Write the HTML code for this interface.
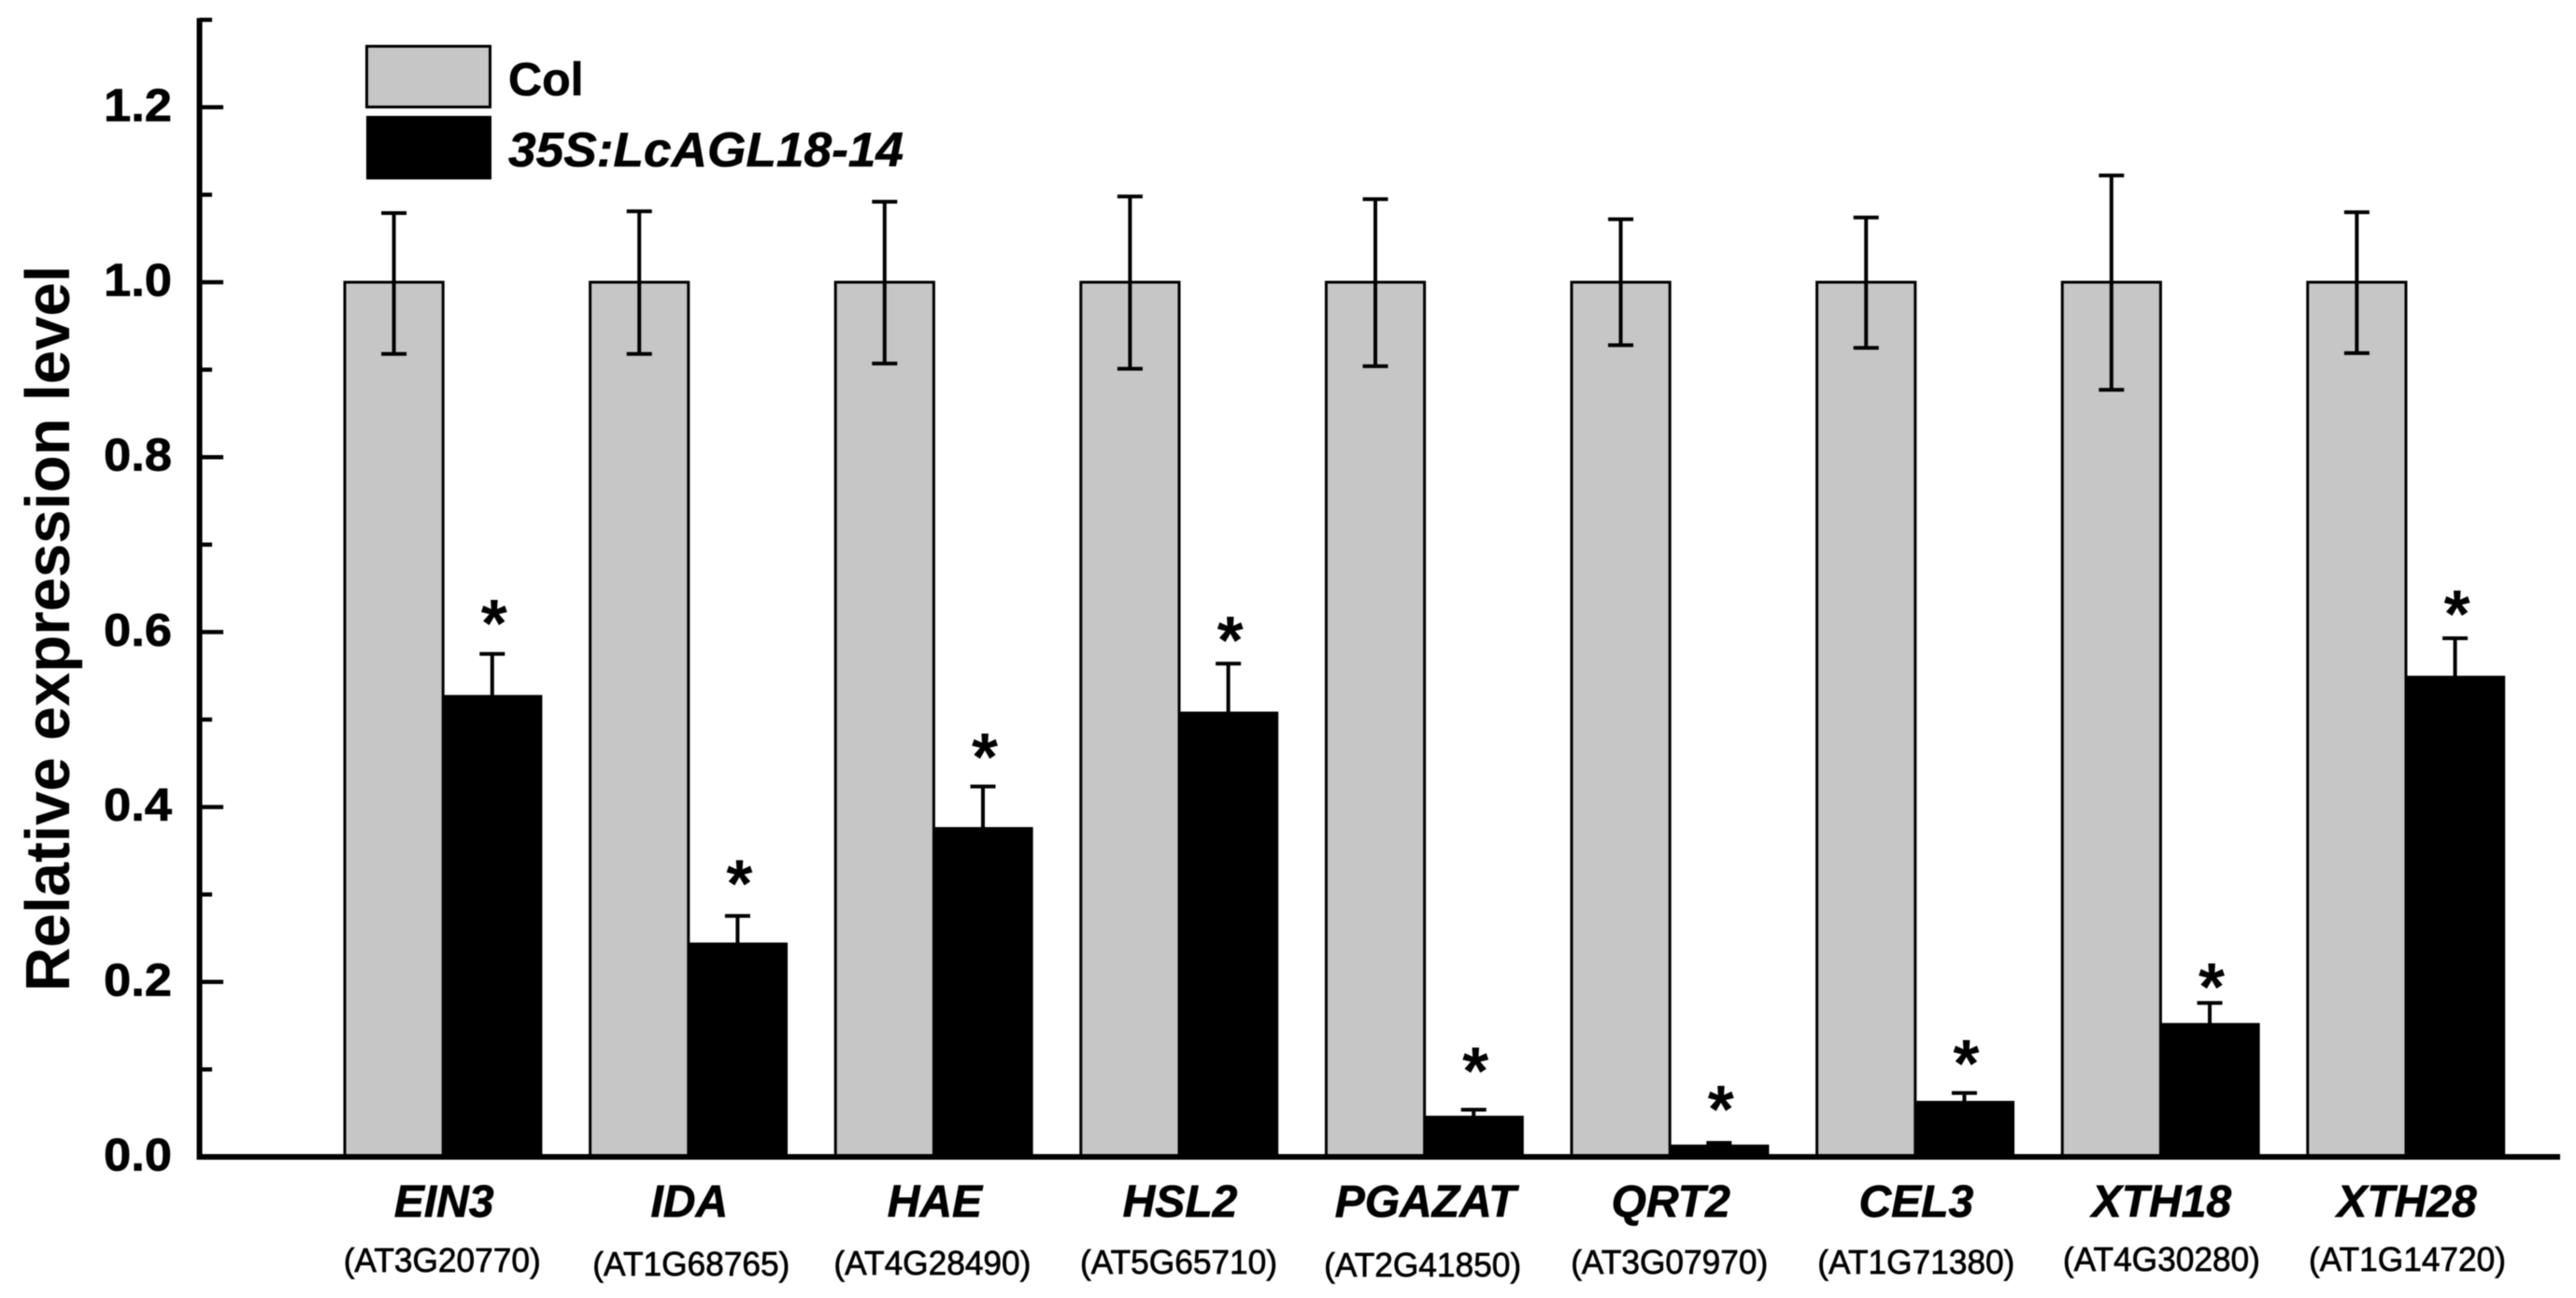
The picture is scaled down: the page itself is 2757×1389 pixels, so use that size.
<!DOCTYPE html>
<html lang="en">
<head>
<meta charset="utf-8">
<title>Relative expression level chart</title>
<style>
  html, body { margin: 0; padding: 0; background: #fff; width: 2757px; height: 1389px; overflow: hidden; }
  svg { display: block; filter: blur(0.6px); }
  text { font-family: "Liberation Sans", sans-serif; fill: #000; }
  .sub { font-family: "Liberation Sans", "Noto Sans CJK SC", sans-serif; }
</style>
</head>
<body>
<svg id="chart" xmlns="http://www.w3.org/2000/svg" width="2757" height="1389" viewBox="0 0 2757 1389">
  <rect x="0" y="0" width="2757" height="1389" fill="#fff"></rect>
  <g id="series"></g>
  <g id="axes"></g>
  <g id="labels"></g>
  <text transform="translate(74 1061) rotate(-90)" font-size="67" font-weight="700" textLength="777" lengthAdjust="spacingAndGlyphs">Relative expression level</text>
  <g>
    <rect x="392.5" y="49.5" width="132" height="65" fill="#c6c6c6" stroke="#000" stroke-width="3"></rect>
    <text x="544" y="102" font-size="50" font-weight="700" stroke="#000" stroke-width="0.6">Col</text>
    <rect x="392" y="124" width="134" height="68" fill="#000"></rect>
    <text x="544" y="178" font-size="52" font-weight="700" font-style="italic" textLength="423" lengthAdjust="spacingAndGlyphs" stroke="#000" stroke-width="0.6">35S:LcAGL18-14</text>
  </g>
</svg>
<script>
const genes = ["EIN3", "IDA", "HAE", "HSL2", "PGAZAT", "QRT2", "CEL3", "XTH18", "XTH28"];
const locusIds = ["(AT3G20770)", "(AT1G68765)", "(AT4G28490)", "(AT5G65710)", "(AT2G41850)", "(AT3G07970)", "(AT1G71380)", "(AT4G30280)", "(AT1G14720)"];
const colValues = [1, 1, 1, 1, 1, 1, 1, 1, 1];
const colErrHigh = [1.079, 1.081, 1.092, 1.098, 1.095, 1.072, 1.074, 1.122, 1.080];
const colErrLow = [0.918, 0.918, 0.907, 0.901, 0.904, 0.928, 0.925, 0.877, 0.919];
const lineValues = [0.527, 0.244, 0.376, 0.508, 0.046, 0.013, 0.063, 0.152, 0.549];
const lineErrHigh = [0.575, 0.2755, 0.4235, 0.564, 0.054, 0.016, 0.073, 0.176, 0.593];
const starGap = [0.047, 0.0485, 0.0455, 0.0386, 0.056, 0.05, 0.0456, 0.03, 0.0395];
const majorTicks = [0, 0.2, 0.4, 0.6, 0.8, 1.0, 1.2];
const majorTickLabels = ["0.0", "0.2", "0.4", "0.6", "0.8", "1.0", "1.2"];
const minorTicks = [0.1, 0.3, 0.5, 0.7, 0.9, 1.1, 1.3];

const NS = "http://www.w3.org/2000/svg";
const seriesLayer = document.getElementById("series");
const axesLayer = document.getElementById("axes");
const labelLayer = document.getElementById("labels");

const zeroY = 1238, pxPerUnit = 936;
const firstBarX = 369, groupStep = 262.6, barW = 105.2, capW = 27;
function yScale(v) { return zeroY - v * pxPerUnit; }
function colX(i) { return firstBarX + i * groupStep; }
function lineX(i) { return colX(i) + barW; }

function make(tag, parent) {
  const el = document.createElementNS(NS, tag);
  parent.appendChild(el);
  return el;
}
function setAll(el, attrs) {
  for (const k in attrs) el.setAttribute(k, attrs[k]);
}
function drawLine(parent, x1, y1, x2, y2, w) {
  const el = make("line", parent);
  setAll(el, { x1: x1, y1: y1, x2: x2, y2: y2, stroke: "#000", "stroke-width": w });
  return el;
}

genes.forEach(function (gene, i) {
  const g = gene.toLowerCase();

  const colBar = make("rect", seriesLayer);
  setAll(colBar, { x: colX(i), y: yScale(colValues[i]), width: barW, height: zeroY - yScale(colValues[i]), fill: "#c6c6c6", stroke: "#000", "stroke-width": 3 });
  
  

  const lineBar = make("rect", seriesLayer);
  setAll(lineBar, { x: lineX(i), y: yScale(lineValues[i]), width: barW, height: zeroY - yScale(lineValues[i]), fill: "#000", stroke: "#000", "stroke-width": 2 });
  
  

  const cx = colX(i) + barW / 2;
  const colErr = make("g", seriesLayer);
  
  
  drawLine(colErr, cx, yScale(colErrHigh[i]), cx, yScale(colErrLow[i]), 4);
  drawLine(colErr, cx - capW / 2, yScale(colErrHigh[i]), cx + capW / 2, yScale(colErrHigh[i]), 4);
  drawLine(colErr, cx - capW / 2, yScale(colErrLow[i]), cx + capW / 2, yScale(colErrLow[i]), 4);

  const lx = lineX(i) + barW / 2;
  const lineErr = make("g", seriesLayer);
  
  
  drawLine(lineErr, lx, yScale(lineErrHigh[i]), lx, yScale(lineValues[i]), 4);
  drawLine(lineErr, lx - capW / 2, yScale(lineErrHigh[i]), lx + capW / 2, yScale(lineErrHigh[i]), 4);

  const star = make("text", seriesLayer);
  setAll(star, { x: lx + 2, y: yScale(lineErrHigh[i] + starGap[i]) + 36, "font-size": 72, "font-weight": 700, "text-anchor": "middle" });
  star.textContent = "*";
  
  

  const geneLabel = make("text", labelLayer);
  setAll(geneLabel, { x: lineX(i) + 1, y: 1302, "font-size": 48, "font-weight": 700, "font-style": "italic", "text-anchor": "middle", stroke: "#000", "stroke-width": 0.7 });
  geneLabel.textContent = gene;
  
  

  const subNudgeY = [0, 4, 3, 2, 5, 2, 2, -1, -1][i];
  const subNudgeX = [-1, 3, -1.5, -0.5, -2, -0.5, 1, 1, 1.5][i];
  const locus = make("text", labelLayer);
  setAll(locus, { class: "sub", x: lineX(i) + subNudgeX, y: 1361 + subNudgeY, "font-size": 36, "text-anchor": "middle", textLength: 211, lengthAdjust: "spacingAndGlyphs", stroke: "#000", "stroke-width": 0.7 });
  locus.textContent = locusIds[i];
  
  
});

const axisX = 213.5;
const yAxis = drawLine(axesLayer, axisX, yScale(1.3) - 2, axisX, zeroY + 3, 6);



const xAxis = drawLine(axesLayer, axisX - 3, zeroY, 2740, zeroY, 6);



majorTicks.forEach(function (v, i) {
  const tick = drawLine(axesLayer, axisX, yScale(v), 239, yScale(v), 4.5);
  
  

  const label = make("text", axesLayer);
  setAll(label, { x: 184, y: yScale(v) + 14.5, "font-size": 49, "font-weight": 700, "text-anchor": "end", textLength: 73, lengthAdjust: "spacingAndGlyphs", stroke: "#000", "stroke-width": 0.7 });
  label.textContent = majorTickLabels[i];
  
  
});

minorTicks.forEach(function (v) {
  const tick = drawLine(axesLayer, axisX, yScale(v), 227, yScale(v), 4.5);
  
  
});
</script>
</body>
</html>
